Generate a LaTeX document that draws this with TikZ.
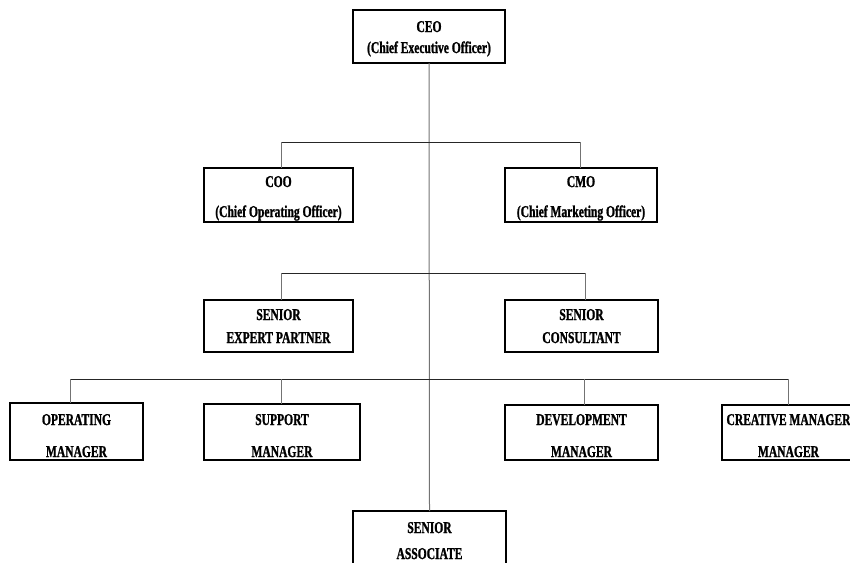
\documentclass[tikz,border=0pt]{standalone}
\usepackage{fontspec}
\setmainfont{Liberation Serif}[FakeStretch=0.70,BoldFeatures={FakeBold=1.2}]
\begin{document}
\begin{tikzpicture}[x=1pt,y=-1pt,
  box/.style={draw=black,line width=2.3pt,fill=white,inner sep=0pt,outer sep=0pt},
  txt/.style={anchor=base,inner sep=0pt,font=\bfseries\fontsize{16.5}{18}\selectfont},
  vline/.style={draw=black!55,line width=1pt},
  hline/.style={draw=black!85,line width=1pt}]
\useasboundingbox (0,0) rectangle (850,562);
\clip (0,0) rectangle (850,562);
% buses
\coordinate (b1l) at (281,142); \coordinate (b1r) at (580,142);
\coordinate (b2l) at (281,273); \coordinate (b2r) at (585,273);
\coordinate (b3a) at (70,379); \coordinate (b3b) at (281,379);
\coordinate (b3c) at (584,379); \coordinate (b3d) at (788,379);
% boxes
\node[box,minimum width=152pt,minimum height=53pt] (ceo) at (429,36.5) {};
\node[box,minimum width=149pt,minimum height=54pt] (coo) at (278.5,195) {};
\node[box,minimum width=152pt,minimum height=54pt] (cmo) at (581,195) {};
\node[box,minimum width=149pt,minimum height=52pt] (sep) at (278.5,326) {};
\node[box,minimum width=153pt,minimum height=52pt] (scon) at (581.5,326) {};
\node[box,minimum width=133pt,minimum height=57pt] (opm) at (76.5,431.5) {};
\node[box,minimum width=156pt,minimum height=56pt] (sup) at (282,432) {};
\node[box,minimum width=153pt,minimum height=55pt] (dev) at (581.5,432.5) {};
\node[box,minimum width=133pt,minimum height=55pt] (cre) at (788.5,432.5) {};
\node[box,minimum width=153pt,minimum height=55pt] (sa) at (429.5,538.5) {};
% connectors
\draw[vline] (ceo.south) -- (sa.north);
\draw[hline] (b1l) -- (b1r);
\draw[vline] (b1l) -- (b1l |- coo.north);
\draw[vline] (b1r) -- (b1r |- cmo.north);
\draw[hline] (b2l) -- (b2r);
\draw[vline] (b2l) -- (b2l |- sep.north);
\draw[vline] (b2r) -- (b2r |- scon.north);
\draw[hline] (b3a) -- (b3d);
\draw[vline] (b3a) -- (b3a |- opm.north);
\draw[vline] (b3b) -- (b3b |- sup.north);
\draw[vline] (b3c) -- (b3c |- dev.north);
\draw[vline] (b3d) -- (b3d |- cre.north);
% texts
\node[txt] (ceo1) at (ceo.center |- 0,32) {CEO};
\node[txt] (ceo2) at (ceo.center |- 0,53) {(Chief Executive Officer)};
\node[txt] (coo1) at (coo.center |- 0,187) {COO};
\node[txt] (coo2) at (coo.center |- 0,217) {(Chief Operating Officer)};
\node[txt] (cmo1) at (cmo.center |- 0,187) {CMO};
\node[txt] (cmo2) at (cmo.center |- 0,217) {(Chief Marketing Officer)};
\node[txt] (sep1) at (sep.center |- 0,320) {SENIOR};
\node[txt] (sep2) at (sep.center |- 0,343) {EXPERT PARTNER};
\node[txt] (scon1) at (scon.center |- 0,320) {SENIOR};
\node[txt] (scon2) at (scon.center |- 0,343) {CONSULTANT};
\node[txt] (opm1) at (opm.center |- 0,425) {OPERATING};
\node[txt] (opm2) at (opm.center |- 0,457) {MANAGER};
\node[txt] (sup1) at (sup.center |- 0,425) {SUPPORT};
\node[txt] (sup2) at (sup.center |- 0,457) {MANAGER};
\node[txt] (dev1) at (dev.center |- 0,425) {DEVELOPMENT};
\node[txt] (dev2) at (dev.center |- 0,457) {MANAGER};
\node[txt] (cre1) at (cre.center |- 0,425) {CREATIVE MANAGER};
\node[txt] (cre2) at (cre.center |- 0,457) {MANAGER};
\node[txt] (sa1) at (sa.center |- 0,533) {SENIOR};
\node[txt] (sa2) at (sa.center |- 0,559) {ASSOCIATE};
\end{tikzpicture}
\end{document}
